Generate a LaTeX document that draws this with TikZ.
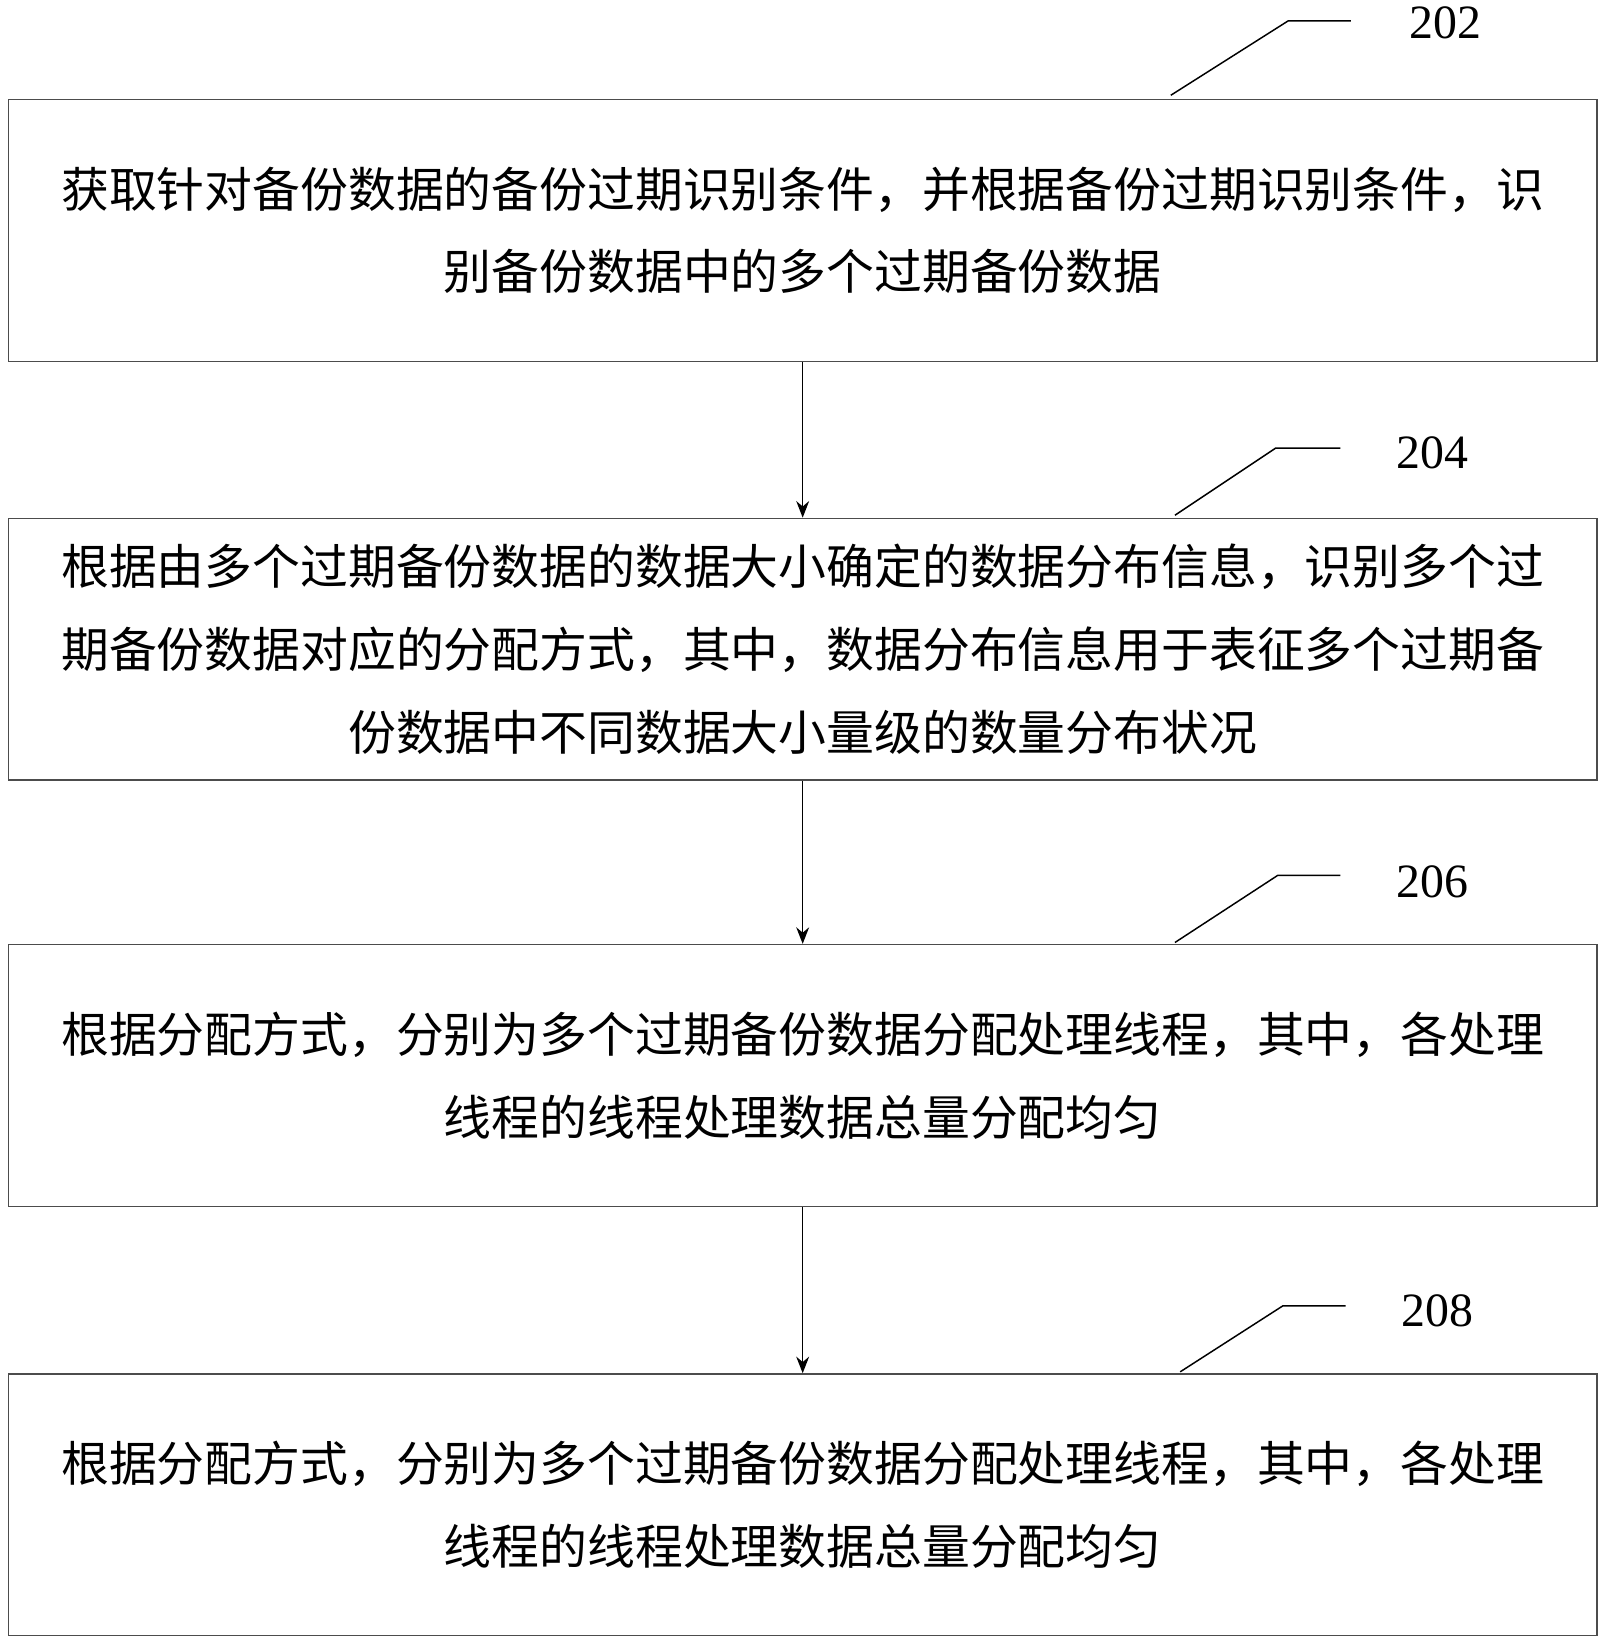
\documentclass[tikz,border=0pt]{standalone}
\usepackage{fontspec}
\setmainfont{Liberation Serif}
\newfontfamily\cjk{Noto Sans CJK SC}
\usetikzlibrary{arrows.meta, positioning}
\tikzset{
    stepbox/.style={rectangle, draw=black!70, line width=0.8pt, minimum width=30.34cm, minimum height=5cm, align=center,
        font=\cjk\fontsize{26pt}{45pt}\selectfont, inner sep=0pt},
    arrow/.style={line width=0.8pt, -{Stealth[length=9pt, width=7pt]}},
    leader/.style={line width=0.8pt},
    num/.style={font=\fontsize{26pt}{30pt}\selectfont}
}
\begin{document}
\begin{tikzpicture}[x=0.02cm, y=-0.02cm]
        \useasboundingbox (0,0) rectangle (1530,1568);
        % steps
        \node[stepbox] (S1) at (766.5,220) {获取针对备份数据的备份过期识别条件，并根据备份过期识别条件，识\\别备份数据中的多个过期备份数据};
        \node[stepbox] (S2) at (766.5,620) {根据由多个过期备份数据的数据大小确定的数据分布信息，识别多个过\\期备份数据对应的分配方式，其中，数据分布信息用于表征多个过期备\\份数据中不同数据大小量级的数量分布状况};
        \node[stepbox] (S3) at (766.5,1027) {根据分配方式，分别为多个过期备份数据分配处理线程，其中，各处理\\线程的线程处理数据总量分配均匀};
        \node[stepbox] (S4) at (766.5,1437) {根据分配方式，分别为多个过期备份数据分配处理线程，其中，各处理\\线程的线程处理数据总量分配均匀};

        % arrows
        \draw[arrow] (S1) -- (S2);
        \draw[arrow] (S2) -- (S3);
        \draw[arrow] (S3) -- (S4);

        % reference numbers
        \node[num] (L1) at (1380,22) {202};
        \node[num] (L2) at (1368,432) {204};
        \node[num] (L3) at (1368,842) {206};
        \node[num] (L4) at (1373,1252) {208};
        \draw[leader] (1118,91) -- (1230,20) -- (1290,20);
        \draw[leader] (1122,492) -- (1218,428) -- (1280,428);
        \draw[leader] (1122,900) -- (1220,836) -- (1280,836);
        \draw[leader] (1127,1310) -- (1225,1247) -- (1285,1247);
    \end{tikzpicture}
\end{document}
